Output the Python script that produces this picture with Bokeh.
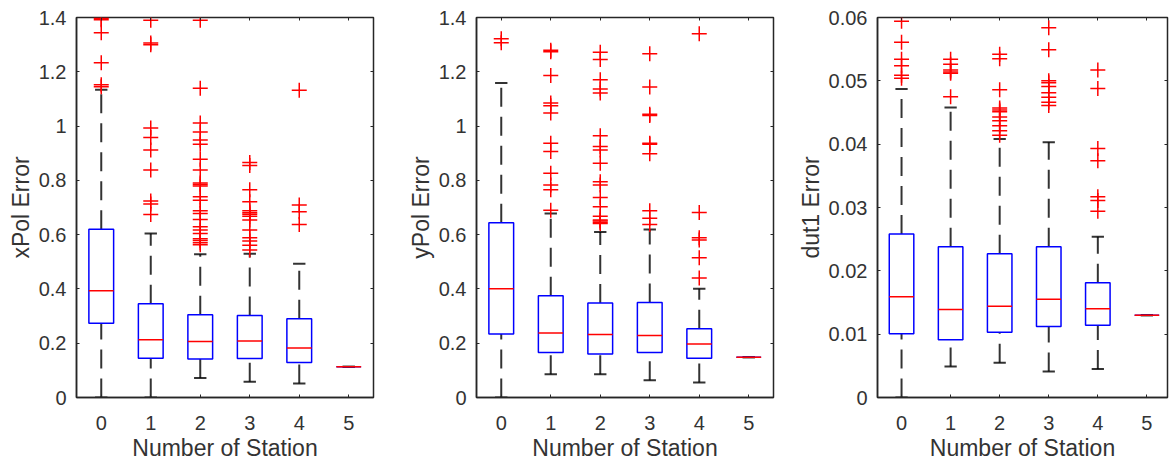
from bokeh.plotting import figure
from bokeh.layouts import row
from bokeh.models import Range1d, FixedTicker, LinearAxis, CustomLabelingPolicy
from bokeh.embed import file_html
from bokeh.resources import INLINE

# ---------------- data ----------------
stations = [0, 1, 2, 3, 4, 5]
station_labels = ["0", "1", "2", "3", "4", "5"]
x_title = "Number of Station"

# xPol error
xpol_lo = [0.0, 0.0, 0.072, 0.058, 0.052, 0.113]
xpol_q1 = [0.274, 0.145, 0.142, 0.144, 0.129, 0.113]
xpol_med = [0.393, 0.213, 0.206, 0.208, 0.182, 0.113]
xpol_q3 = [0.620, 0.345, 0.305, 0.302, 0.290, 0.113]
xpol_hi = [1.134, 0.604, 0.528, 0.530, 0.493, 0.113]
xpol_out = [
    [1.397, 1.392, 1.344, 1.233, 1.152, 1.145],
    [1.390, 1.306, 1.300, 0.993, 0.958, 0.912, 0.838, 0.724, 0.713, 0.674],
    [1.390, 1.139, 1.011, 0.978, 0.949, 0.933, 0.878, 0.838, 0.790, 0.785, 0.779,
     0.740, 0.727, 0.688, 0.678, 0.656, 0.629, 0.617, 0.604, 0.585, 0.578, 0.570, 0.563],
    [0.866, 0.855, 0.765, 0.721, 0.688, 0.681, 0.675, 0.668, 0.654, 0.617, 0.589,
     0.577, 0.561, 0.543],
    [1.132, 0.709, 0.684, 0.637],
    [],
]
xpol_ticks = [0, 0.2, 0.4, 0.6, 0.8, 1.0, 1.2, 1.4]
xpol_tick_labels = ["0", "0.2", "0.4", "0.6", "0.8", "1", "1.2", "1.4"]

# yPol error
ypol_lo = [0.0, 0.086, 0.086, 0.064, 0.055, 0.148]
ypol_q1 = [0.234, 0.166, 0.160, 0.166, 0.145, 0.148]
ypol_med = [0.401, 0.238, 0.232, 0.228, 0.197, 0.148]
ypol_q3 = [0.644, 0.375, 0.348, 0.350, 0.253, 0.148]
ypol_hi = [1.159, 0.678, 0.610, 0.619, 0.401, 0.148]
ypol_out = [
    [1.322, 1.307],
    [1.279, 1.274, 1.186, 1.085, 1.075, 1.048, 0.937, 0.906, 0.826, 0.783, 0.765, 0.690],
    [1.272, 1.245, 1.171, 1.137, 1.122, 0.964, 0.925, 0.912, 0.863, 0.795, 0.783,
     0.737, 0.703, 0.668, 0.654, 0.650, 0.645, 0.641],
    [1.266, 1.144, 1.044, 1.039, 0.937, 0.933, 0.898, 0.688, 0.660, 0.637],
    [1.340, 0.682, 0.589, 0.580, 0.515, 0.440],
    [],
]
ypol_ticks = [0, 0.2, 0.4, 0.6, 0.8, 1.0, 1.2, 1.4]
ypol_tick_labels = ["0", "0.2", "0.4", "0.6", "0.8", "1", "1.2", "1.4"]

# dut1 error
dut_lo = [0.0, 0.0049, 0.0055, 0.0041, 0.0045, 0.0130]
dut_q1 = [0.01005, 0.0091, 0.0103, 0.0112, 0.0114, 0.0130]
dut_med = [0.0159, 0.0139, 0.0144, 0.0155, 0.0140, 0.0130]
dut_q3 = [0.0258, 0.0238, 0.0227, 0.0238, 0.0181, 0.0130]
dut_hi = [0.0487, 0.0458, 0.0408, 0.0403, 0.0254, 0.0130]
dut_out = [
    [0.0594, 0.0561, 0.0534, 0.0524, 0.0509, 0.0504],
    [0.0534, 0.0526, 0.0517, 0.0514, 0.0512, 0.0475],
    [0.0542, 0.0535, 0.0486, 0.0457, 0.0454, 0.0451, 0.0443, 0.0437, 0.0429, 0.0421, 0.0414],
    [0.0584, 0.0549, 0.0500, 0.0497, 0.0491, 0.0481, 0.0474, 0.0466, 0.0461],
    [0.0517, 0.0488, 0.0393, 0.0374, 0.0317, 0.0311, 0.0294],
    [],
]
dut_ticks = [0, 0.01, 0.02, 0.03, 0.04, 0.05, 0.06]
dut_tick_labels = ["0", "0.01", "0.02", "0.03", "0.04", "0.05", "0.06"]

# ---------------- styling ----------------
FONT = "Liberation Sans"
TEXT = "#333333"
AXC = "#262626"
BOX_W = 0.5
CAP_W = 0.25

NO_LABELS = CustomLabelingPolicy(code="""
try { indices.clear(); return indices } catch (e) {}
try { for (const i of Array.from(indices)) indices.unset(i); return indices } catch (e) {}
return []
""")


def panel(width, b_left, b_right, x_start, x_end, y_end, yticks, ylabels, ytitle,
          lo, q1, med, q3, hi, outs):
    p = figure(width=width, height=463, x_range=Range1d(x_start, x_end),
               y_range=Range1d(0, y_end), output_backend="svg",
               toolbar_location=None, min_border_left=b_left,
               min_border_right=b_right, min_border_top=17, min_border_bottom=66)
    p.grid.visible = False
    p.outline_line_color = AXC
    p.outline_line_width = 1.5
    p.background_fill_color = "white"
    p.border_fill_color = "white"

    xa = p.below[0]
    ya = p.left[0]
    xa.ticker = FixedTicker(ticks=stations)
    xa.major_label_overrides = dict(zip(stations, station_labels))
    ya.ticker = FixedTicker(ticks=yticks)
    ya.major_label_overrides = dict(zip(yticks, ylabels))
    xa.axis_label = x_title
    ya.axis_label = ytitle
    for ax, st, lst in ((xa, 18, 2), (ya, 10, 2)):
        ax.axis_line_color = AXC
        ax.axis_line_width = 1.5
        ax.major_tick_in = 3
        ax.major_tick_out = 0
        ax.minor_tick_in = 0
        ax.minor_tick_out = 0
        ax.major_tick_line_color = AXC
        ax.major_label_text_font = FONT
        ax.major_label_text_font_size = "20px"
        ax.major_label_text_color = TEXT
        ax.major_label_standoff = st
        ax.axis_label_text_font = FONT
        ax.axis_label_text_font_size = "23px"
        ax.axis_label_text_font_style = "normal"
        ax.axis_label_text_color = TEXT
        ax.axis_label_standoff = lst

    # inner ticks on the right and top edges (box on), without labels
    for loc, ticks in (("right", yticks), ("above", stations)):
        ax = LinearAxis(ticker=FixedTicker(ticks=ticks),
                        major_label_policy=NO_LABELS,
                        major_label_text_font_size="1px",
                        major_label_standoff=0,
                        major_tick_in=3, major_tick_out=0,
                        minor_tick_in=0, minor_tick_out=0,
                        major_tick_line_color=AXC,
                        axis_line_color=None)
        p.add_layout(ax, loc)

    # whiskers (dashed)
    p.segment(x0=stations, y0=q3, x1=stations, y1=hi, line_color="black",
              line_alpha=0.8, line_width=2, line_dash="19 10")
    p.segment(x0=stations, y0=lo, x1=stations, y1=q1, line_color="black",
              line_alpha=0.8, line_width=2, line_dash="19 10")
    # whisker caps
    cl = [s - CAP_W / 2 for s in stations]
    cr = [s + CAP_W / 2 for s in stations]
    p.segment(x0=cl, y0=hi, x1=cr, y1=hi, line_color="black", line_alpha=0.8, line_width=2)
    p.segment(x0=cl, y0=lo, x1=cr, y1=lo, line_color="black", line_alpha=0.8, line_width=2)
    # boxes
    p.vbar(x=stations, bottom=q1, top=q3, width=BOX_W, fill_color=None,
           line_color="#0000FF", line_width=1.5)
    # medians
    ml = [s - BOX_W / 2 for s in stations]
    mr = [s + BOX_W / 2 for s in stations]
    p.segment(x0=ml, y0=med, x1=mr, y1=med, line_color="#FF0000", line_width=1.5)
    # outliers
    ox = [s for s, vals in zip(stations, outs) for _ in vals]
    oy = [v for vals in outs for v in vals]
    p.scatter(x=ox, y=oy, marker="cross", size=15, line_color="#FF0000",
              line_width=1.5)
    return p


p1 = panel(378, 76, 5, -0.5, 5.5, 1.4, xpol_ticks, xpol_tick_labels, "xPol Error",
           xpol_lo, xpol_q1, xpol_med, xpol_q3, xpol_hi, xpol_out)
p2 = panel(400, 98, 5, -0.5, 5.5, 1.4, ypol_ticks, ypol_tick_labels, "yPol Error",
           ypol_lo, ypol_q1, ypol_med, ypol_q3, ypol_hi, ypol_out)
p3 = panel(394, 99, 3, -0.49, 5.42, 0.06, dut_ticks, dut_tick_labels, "dut1 Error",
           dut_lo, dut_q1, dut_med, dut_q3, dut_hi, dut_out)

layout = row(p1, p2, p3)
open("out.html", "w").write(file_html(layout, INLINE))
